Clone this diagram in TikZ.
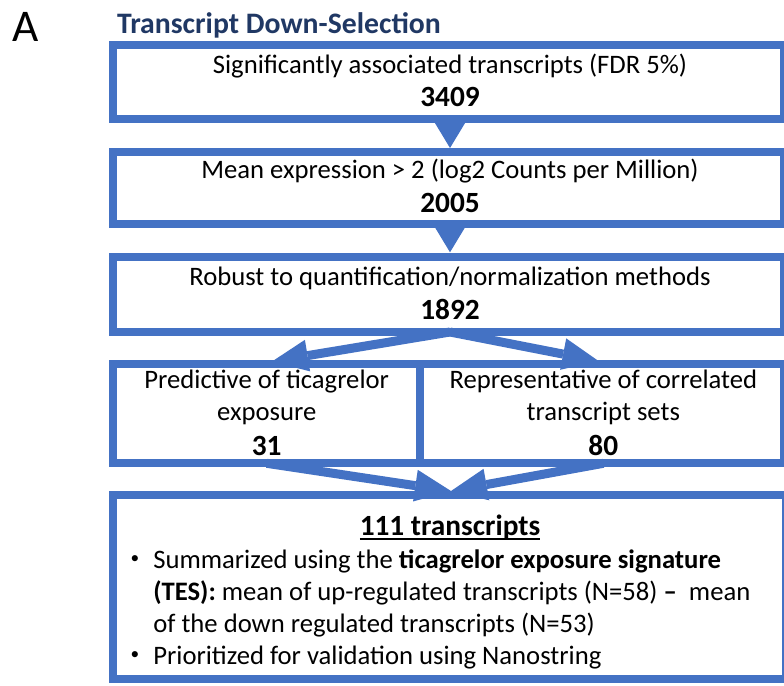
\documentclass[tikz,border=0pt]{standalone}
\usepackage{fontspec}
\setmainfont{Carlito}
\usetikzlibrary{arrows.meta,fit,calc}
\definecolor{bblue}{HTML}{4472C4}
\definecolor{navy}{HTML}{203864}
\begin{document}
\begin{tikzpicture}[x=0.75pt,y=-0.75pt,
  box/.style={draw=bblue, line width=6pt, fill=white, inner sep=0pt, outer sep=0pt},
  txt/.style={inner sep=0pt, outer sep=0pt, anchor=base, font=\fontsize{20pt}{24pt}\selectfont},
  btxt/.style={txt, font=\fontsize{22pt}{26pt}\selectfont\bfseries},
  ltxt/.style={txt, anchor=base west},
  bullet/.style={inner sep=0pt, outer sep=0pt, anchor=center, font=\fontsize{13pt}{15pt}\selectfont},
  varr/.style={draw=bblue, line width=6.75pt, -{Triangle[length=21.75pt,width=26.25pt,line width=0pt]}},
  sarr/.style={draw=bblue, line width=6.75pt, -{Triangle[length=27pt,width=24pt,line width=0pt]}},
]
\useasboundingbox (0,0) rectangle (784,685);
\begin{scope}
\clip (0,0) rectangle (784,685);
\node[box, fit={(113,45.5) (784,119)}] (b1) {};
\node[box, fit={(113,151.7) (784,223.5)}] (b2) {};
\node[box, fit={(113,256.5) (784,332)}] (b3) {};
\node[box, fit={(113,364) (420,463.3)}] (b4) {};
\node[box, fit={(420,364) (784,463.3)}] (b5) {};
\node[box, fit={(113,494.5) (785.5,679)}] (b6) {};
\end{scope}

\node[txt, font=\fontsize{34pt}{40pt}\selectfont] (lblA) at (25.5,41) {A};
\node[btxt, text=navy, font=\fontsize{22.3pt}{26pt}\selectfont\bfseries] (title) at (279,33.3) {Transcript Down-Selection};

\node[txt] (t1a) at (450,74) {Significantly associated transcripts (FDR 5\%)};
\node[btxt] (t1b) at (450,106.7) {3409};
\node[txt] (t2a) at (450,178.3) {Mean expression > 2 (log2 Counts per Million)};
\node[btxt] (t2b) at (450,212.3) {2005};
\node[txt] (t3a) at (450,285) {Robust to quantification/normalization methods};
\node[btxt] (t3b) at (450,319.5) {1892};
\node[txt] (t4a) at (266.7,388.3) {Predictive of ticagrelor};
\node[txt] (t4b) at (266.7,420) {exposure};
\node[btxt] (t4c) at (266.7,455) {31};
\node[txt] (t5a) at (603.3,388.3) {Representative of correlated};
\node[txt] (t5b) at (603.3,420) {transcript sets};
\node[btxt] (t5c) at (603.3,455) {80};

\node[btxt] (t6h) at (450,535) {111 transcripts};
\draw[line width=1.5pt] ([yshift=-3pt]t6h.base west) -- ([yshift=-3pt]t6h.base east);
\node[bullet] (bu1) at (135,560) {•};
\node[ltxt] (l1) at (153.3,568.3) {Summarized using the \textbf{ticagrelor exposure signature}};
\node[ltxt] (l2) at (153.3,600) {\textbf{(TES):} mean of up-regulated transcripts (N=58) \textbf{–}\ \ mean};
\node[ltxt] (l3) at (153.3,632) {of the down regulated transcripts (N=53)};
\node[bullet] (bu2) at (135,656) {•};
\node[ltxt] (l4) at (153.3,664.3) {Prioritized for validation using Nanostring};

\coordinate (v1) at (450,148);
\coordinate (v2) at (450,252.3);
\coordinate (s4) at (272,361.5);
\coordinate (s5) at (598.5,361);
\coordinate (m6) at (451,491);
\draw[varr] (b1.south -| v1) -- (v1);
\draw[varr] (b2.south -| v2) -- (v2);
\draw[sarr] (b3.south -| v1) -- (s4);
\draw[sarr] (b3.south -| v1) -- (s5);
\draw[sarr] (b4.south -| t4c) -- (m6);
\draw[sarr] (b5.south -| t5c) -- (m6);
\end{tikzpicture}
\end{document}
